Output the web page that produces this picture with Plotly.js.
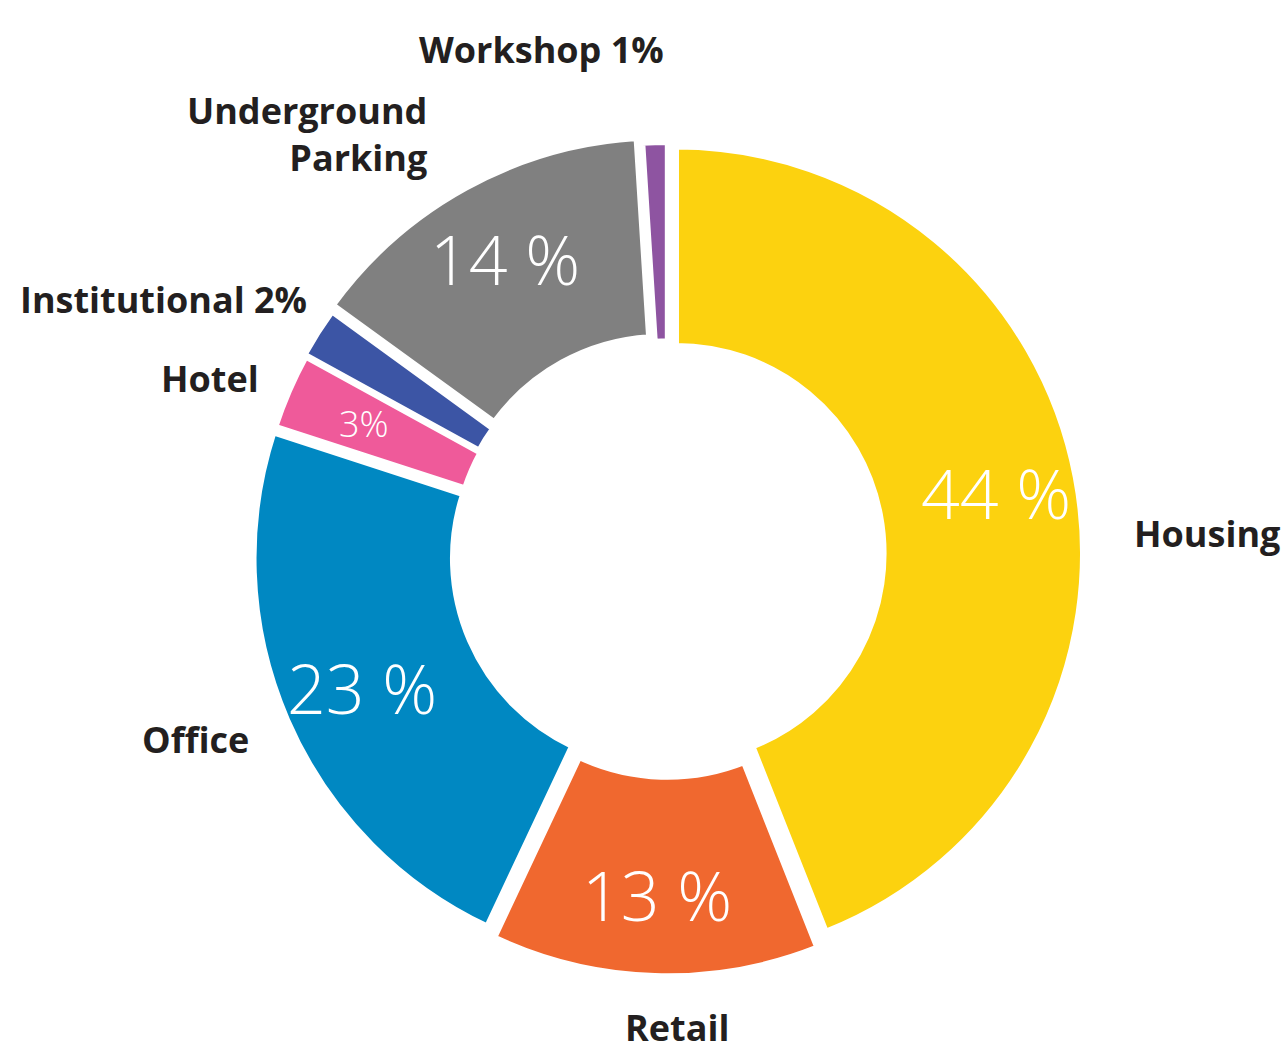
<!DOCTYPE html>
<html>
<head>
<meta charset="utf-8">
<script src="https://cdn.plot.ly/plotly-3.0.1.min.js"></script>
<style>html,body{margin:0;padding:0;background:#fff;}#chart{width:1286px;height:1053px;}</style>
</head>
<body>
<div id="chart"></div>
<script>
const categories = ["Housing", "Retail", "Office", "Hotel", "Institutional", "Underground Parking", "Workshop"];
const shares = [44, 13, 23, 3, 2, 14, 1];
const insideLabels = ["44 %", "13 %", "23 %", "3%", "", "14 %", ""];
const outsideLabels = ["Housing", "Retail", "Office", "Hotel", "Institutional 2%", "Underground<br>Parking", "Workshop 1%"];
const colors = ["#FCD20F", "#F0682F", "#0088C2", "#EF5A9A", "#3C55A5", "#808080", "#8E54A1"];
const insideSizes = [68, 68, 68, 36, 1, 68, 1];
const pulls = [0.02, 0.035, 0.02, 0.015, 0.02, 0.03, 0.015];

const W = 1286, H = 1053;
const px = x => x / W;
const py = y => 1 - y / H;

// outside label placement (pixels) : [x, y, xanchor]
const labelPos = [
  [1132, 533, "left"],
  [677, 1027, "center"],
  [251, 739, "right"],
  [261, 378, "right"],
  [309, 300, "right"],
  [429, 134, "right"],
  [541, 50, "center"]
];

const cx = 668, cy = 555, r = 407;
const maxPull = Math.max(...pulls);
const D = r * (1 + maxPull);

const trace = {
  type: "pie",
  labels: categories,
  values: shares,
  textinfo: "none",
  sort: false,
  direction: "clockwise",
  rotation: 0,
  hole: 0.51,
  pull: pulls,
  marker: {colors: colors, line: {color: "#ffffff", width: 6}},
  hoverinfo: "skip",
  showlegend: false,
  domain: {x: [px(cx - D), px(cx + D)], y: [py(cy + D), py(cy - D)]}
};

const annotations = outsideLabels.map((t, i) => ({
  text: t,
  xref: "paper", yref: "paper",
  x: px(labelPos[i][0]), y: py(labelPos[i][1]),
  xanchor: labelPos[i][2], yanchor: "middle",
  align: labelPos[i][2] === "right" ? "right" : "center",
  showarrow: false,
  font: {family: "Open Sans", size: 36, color: "#231F20", weight: 700}
}));

// inside percentage labels, placed along each slice's bisector
const total = shares.reduce((a, b) => a + b, 0);
let cum = 0;
shares.forEach((v, i) => {
  const mid = (cum + v / 2) / total * 2 * Math.PI;
  cum += v;
  if (!insideLabels[i]) return;
  const rt = r * (0.8 + pulls[i]);
  const x = cx + rt * Math.sin(mid);
  const y = cy - rt * Math.cos(mid);
  annotations.push({
    text: insideLabels[i],
    xref: "paper", yref: "paper",
    x: px(x), y: py(y),
    xanchor: "center", yanchor: "middle",
    showarrow: false,
    font: {family: "Open Sans", size: insideSizes[i], color: "#ffffff", weight: 300}
  });
});

const layout = {
  width: W, height: H,
  margin: {l: 0, r: 0, t: 0, b: 0},
  paper_bgcolor: "#ffffff",
  showlegend: false,
  annotations: annotations
};

Plotly.newPlot("chart", [trace], layout, {displayModeBar: false, staticPlot: true});
</script>
</body>
</html>
